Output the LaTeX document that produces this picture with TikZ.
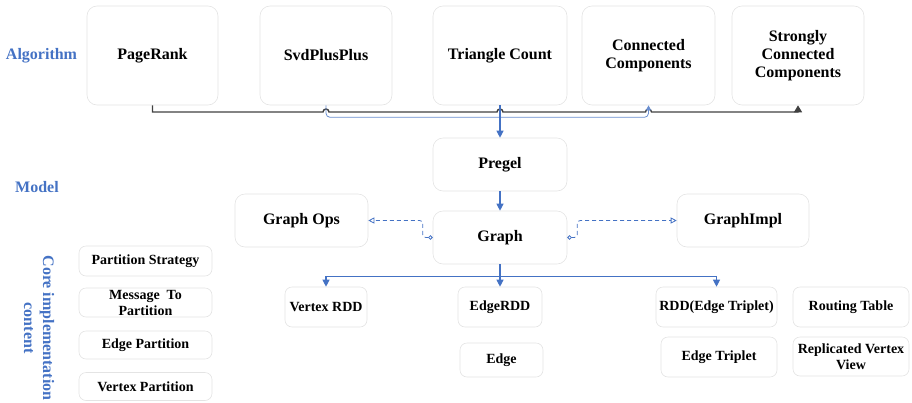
\documentclass[tikz,border=0pt]{standalone}
\usepackage{fontspec}
\setmainfont{Liberation Serif}[BoldFont={Liberation Serif Bold}]
\newfontfamily\labelfont{Liberation Serif Bold}
\usetikzlibrary{arrows.meta,calc}

\definecolor{accent}{HTML}{4472C4}
\definecolor{boxline}{HTML}{E4E4E4}
\definecolor{busline}{HTML}{404040}

\tikzset{
  box/.style={draw=boxline, fill=white, line width=0.6pt, rounded corners=10pt,
    align=center, inner sep=0pt, text=black,
    font=\labelfont\fontsize{16}{18}\selectfont},
  sbox/.style={box, rounded corners=7pt, font=\labelfont\fontsize{14}{16}\selectfont},
  sz/.style 2 args={minimum width=#1pt, minimum height=#2pt},
  tier/.style={text=accent, align=center, inner sep=0pt,
    font=\labelfont\fontsize{16}{19}\selectfont},
  bus/.style={draw=busline, line width=1.4pt},
  blu/.style={draw=accent, line width=1.1pt},
  arr/.style={-{Triangle[width=7pt,length=7pt]}},
  dsh/.style={draw=accent, line width=0.8pt, dash pattern=on 4pt off 3pt}
}

\begin{document}
\begin{tikzpicture}[x=1pt, y=-1pt]
  \useasboundingbox (0,0) rectangle (912,402);

  % tier labels
  \node[tier] (lalg) at (41.5,56) {Algorithm};
  \node[tier] (lmod) at (37,187) {Model};
  \node[tier, rotate=-90] (lcore) at (39,328) {Core implementation\\content};

  % algorithm row
  \node[box, sz={131}{99}] (pr)  at (152.5,55.5) {PageRank};
  \node[box, sz={132}{99}] (svd) at (326,55.5) {SvdPlusPlus};
  \node[box, sz={134}{99}] (tc)  at (500,55.5) {Triangle Count};
  \node[box, sz={133}{99}] (cc)  at (648.5,55.5) {Connected\\Components};
  \node[box, sz={132}{99}] (scc) at (798,55.5) {Strongly\\Connected\\Components};

  % model
  \node[box, sz={134}{53}] (pregel) at (500,164.5) {Pregel};
  \node[box, sz={134}{53}] (graph)  at (500,237.5) {Graph};
  \node[box, sz={133}{53}] (gops)   at (301.5,220.5) {Graph Ops};
  \node[box, sz={132}{53}] (gimpl)  at (743,220.5) {GraphImpl};

  % core implementation
  \node[sbox, sz={82}{40}]  (vrdd)  at (326,307) {Vertex RDD};
  \node[sbox, sz={84}{40}]  (erdd)  at (500,307) {EdgeRDD};
  \node[sbox, sz={83}{34}]  (edge)  at (501.5,360) {Edge};
  \node[sbox, sz={121}{40}] (rddt)  at (716.5,307) {RDD(Edge Triplet)};
  \node[sbox, sz={116}{40}] (etrip) at (719,357) {Edge Triplet};
  \node[sbox, sz={116}{40}] (rtab)  at (851,307) {Routing Table};
  \node[sbox, sz={116}{39}] (rvv)   at (851,356.5) {Replicated Vertex\\View};

  \node[sbox, sz={133}{30}] (pstrat) at (145.5,261) {Partition Strategy};
  \node[sbox, sz={133}{29}] (msg)    at (145.5,302.5) {Message\ \ To\\Partition};
  \node[sbox, sz={133}{28}] (epart)  at (145.5,345) {Edge Partition};
  \node[sbox, sz={133}{28}] (vpart)  at (145.5,386.5) {Vertex Partition};

  % black bus under the algorithms, hopping over the blue links
  \coordinate (busy) at (0,112);
  \draw[bus, -{Triangle[width=8pt,length=7pt]}]
    (pr.south) |- ($(svd.south |- busy)+(-3pt,0)$)
    arc[start angle=180, end angle=0, radius=3pt]
    -- ($(tc.south |- busy)+(-3pt,0)$)
    arc[start angle=180, end angle=0, radius=3pt]
    -- ($(cc.south |- busy)+(-3pt,0)$)
    arc[start angle=180, end angle=0, radius=3pt]
    -- (scc.south |- busy) -- (scc.south);

  % blue links between algorithms and Pregel
  \draw[draw=accent!80, line width=0.8pt, rounded corners=4pt,
        -{Triangle[width=5pt,length=5pt]}]
    (svd.south) |- ($(cc.south)+(0,12)$) -- (cc.south);
  \draw[blu, arr] (tc.south) -- (pregel.north);
  \draw[blu, arr] (pregel.south) -- (graph.north);

  % dashed dependencies of Graph
  \draw[dsh, rounded corners=3pt,
        {Circle[open,length=4.5pt,width=4.5pt]}-{Triangle[open,width=6pt,length=6pt]}]
    (graph.west) -- ++(-10,0) |- (gops.east);
  \draw[dsh, rounded corners=3pt,
        {Circle[open,length=4.5pt,width=4.5pt]}-{Triangle[open,width=6pt,length=6pt]}]
    (graph.east) -- ++(10,0) |- (gimpl.west);

  % Graph fans out to its RDDs
  \draw[blu, arr] (graph.south) -- (erdd.north);
  \draw[blu, arr] (graph.south) -- ++(0,12) -| (vrdd.north);
  \draw[blu, arr] (graph.south) -- ++(0,12) -| (rddt.north);
\end{tikzpicture}
\end{document}
